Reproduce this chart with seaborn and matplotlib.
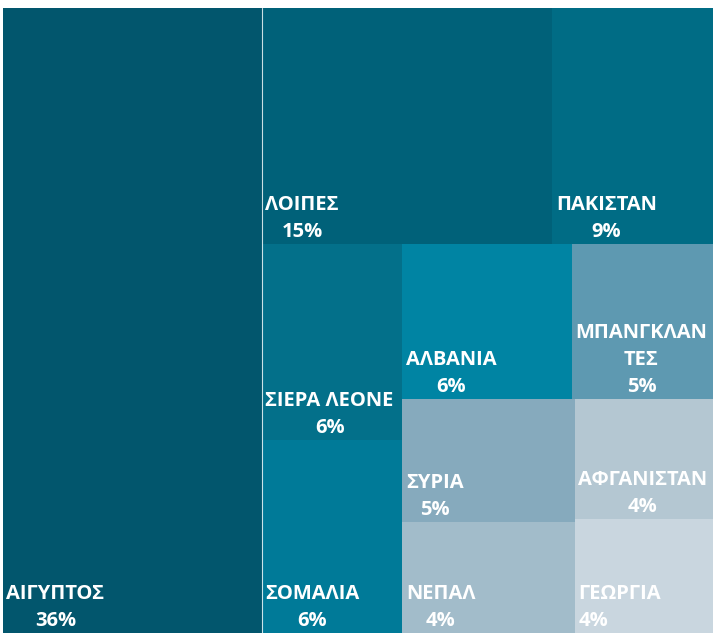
import matplotlib
matplotlib.use("Agg")
import matplotlib.pyplot as plt
import seaborn as sns

# ---- data ----
countries = ["ΑΙΓΥΠΤΟΣ", "ΛΟΙΠΕΣ", "ΠΑΚΙΣΤΑΝ", "ΣΙΕΡΑ ΛΕΟΝΕ", "ΣΟΜΑΛΙΑ",
             "ΑΛΒΑΝΙΑ", "ΜΠΑΝΓΚΛΑΝΤΕΣ", "ΣΥΡΙΑ", "ΝΕΠΑΛ", "ΑΦΓΑΝΙΣΤΑΝ", "ΓΕΩΡΓΙΑ"]
shares = [36.45, 15.45, 8.55, 6.2, 6.1, 5.9, 4.9, 4.8, 4.3, 3.75, 3.55]
colors = ["#02566D", "#006179", "#006C85", "#03708A", "#007A98", "#0084A3",
          "#5E99B1", "#86AABD", "#A2BCCA", "#B4C7D2", "#C9D6DF"]

# layout tree: ('h', children) = side by side, ('v', children) = stacked top->bottom
tree = ('h', [0, ('v', [('h', [1, 2]),
                        ('h', [('v', [3, 4]),
                               ('v', [('h', [5, 6]),
                                      ('h', [('v', [7, 8]), ('v', [9, 10])])])])])])

def total(node):
    if isinstance(node, int):
        return shares[node]
    return sum(total(c) for c in node[1])

rects = {}
def layout(node, x, y, w, h):
    # y is top edge
    if isinstance(node, int):
        rects[node] = (x, y - h, w, h)
        return
    d, children = node
    t = total(node)
    if d == 'h':
        cx = x
        for c in children:
            cw = w * total(c) / t
            layout(c, cx, y, cw, h)
            cx += cw
    else:
        cy = y
        for c in children:
            ch = h * total(c) / t
            layout(c, x, cy, w, ch)
            cy -= ch

layout(tree, 0.0, 1.0, 1.0, 1.0)

sns.set_style("white")
plt.rcParams['font.family'] = ['Open Sans', 'DejaVu Sans']

fig = plt.figure(figsize=(7.13, 6.33), dpi=100)
ax = fig.add_axes([3 / 713, 0, 710 / 713, 625 / 633])
ax.set_xlim(0, 1)
ax.set_ylim(0, 1)
ax.axis('off')

wrap = {"ΜΠΑΝΓΚΛΑΝΤΕΣ": 9}
left_aligned = {"ΓΕΩΡΓΙΑ"}

for i, name in enumerate(countries):
    x, yb, w, h = rects[i]
    ax.bar(x, h, width=w, bottom=yb, align='edge', color=colors[i],
           edgecolor='none', linewidth=0)
    disp = name
    if name in wrap:
        k = wrap[name]
        disp = name[:k] + "\n" + name[k:]
    label = f"{disp}\n{round(shares[i])}%"
    ax.annotate(label, xy=(x, yb), xytext=(2.5, 1.5), textcoords='offset points',
                ha='left', va='bottom', color='white', fontsize=14.5,
                fontweight='bold', linespacing=1.45,
                multialignment='left' if name in left_aligned else 'center')

# thin separator next to the largest block
x0, yb0, w0, h0 = rects[0]
ax.axvline(x0 + w0, color='white', linewidth=0.8, alpha=0.8)

fig.savefig("out.png", dpi=100, facecolor='white')
